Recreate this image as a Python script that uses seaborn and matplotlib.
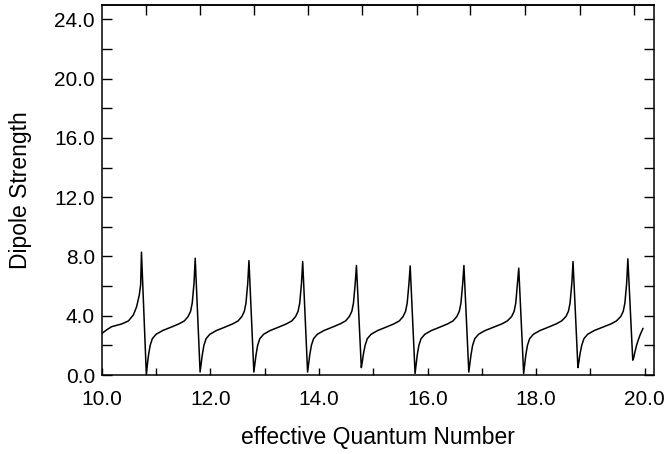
import matplotlib
matplotlib.use("Agg")
import matplotlib.pyplot as plt
from matplotlib.ticker import MultipleLocator, FixedLocator, NullFormatter
import seaborn as sns

# values, one row per resonance cycle
quantum_number = [
    10.00, 10.09, 10.18, 10.28, 10.37, 10.49, 10.58, 10.64, 10.69, 10.715, 10.73,
    10.82, 10.84, 10.86, 10.89, 10.93, 11.00, 11.12, 11.27, 11.42, 11.52, 11.59, 11.635, 11.665, 11.685, 11.698, 11.72,
    11.81, 11.83, 11.85, 11.88, 11.92, 11.99, 12.11, 12.26, 12.41, 12.51, 12.58, 12.625, 12.655, 12.675, 12.688, 12.71,
    12.80, 12.82, 12.84, 12.87, 12.91, 12.98, 13.10, 13.25, 13.40, 13.50, 13.57, 13.615, 13.645, 13.665, 13.678, 13.70,
    13.79, 13.81, 13.83, 13.86, 13.90, 13.97, 14.09, 14.24, 14.39, 14.49, 14.56, 14.605, 14.635, 14.655, 14.668, 14.69,
    14.78, 14.80, 14.82, 14.85, 14.89, 14.96, 15.08, 15.23, 15.38, 15.48, 15.55, 15.595, 15.625, 15.645, 15.658, 15.68,
    15.77, 15.79, 15.81, 15.84, 15.88, 15.95, 16.07, 16.22, 16.37, 16.47, 16.54, 16.585, 16.615, 16.635, 16.648, 16.67,
    16.76, 16.78, 16.80, 16.83, 16.87, 16.94, 17.06, 17.21, 17.37, 17.47, 17.55, 17.595, 17.625, 17.645, 17.658, 17.68,
    17.77, 17.79, 17.81, 17.84, 17.88, 17.95, 18.07, 18.22, 18.37, 18.47, 18.55, 18.595, 18.625, 18.645, 18.658, 18.68,
    18.77, 18.79, 18.81, 18.84, 18.88, 18.95, 19.07, 19.22, 19.38, 19.48, 19.56, 19.605, 19.635, 19.655, 19.668, 19.69,
    19.78, 19.80, 19.82, 19.85, 19.88, 19.92, 19.97,
]
dipole_strength = [
    2.80, 3.05, 3.26, 3.36, 3.45, 3.65, 4.05, 4.60, 5.40, 6.10, 8.29,
    0.00, 0.75, 1.35, 2.00, 2.45, 2.75, 3.00, 3.22, 3.45, 3.65, 3.95, 4.30, 4.85, 5.70, 6.20, 7.88,
    0.20, 0.80, 1.35, 2.00, 2.45, 2.75, 3.00, 3.22, 3.45, 3.65, 3.95, 4.30, 4.85, 5.70, 6.20, 7.72,
    0.20, 0.80, 1.35, 2.00, 2.45, 2.75, 3.00, 3.22, 3.45, 3.65, 3.95, 4.30, 4.85, 5.70, 6.20, 7.66,
    0.20, 0.80, 1.35, 2.00, 2.45, 2.75, 3.00, 3.22, 3.45, 3.65, 3.95, 4.30, 4.85, 5.70, 6.20, 7.39,
    0.50, 0.95, 1.45, 2.00, 2.45, 2.75, 3.00, 3.22, 3.45, 3.65, 3.95, 4.30, 4.85, 5.70, 6.20, 7.36,
    0.10, 0.75, 1.35, 2.00, 2.45, 2.75, 3.00, 3.22, 3.45, 3.65, 3.95, 4.30, 4.85, 5.70, 6.20, 7.39,
    0.20, 0.80, 1.35, 2.00, 2.45, 2.75, 3.00, 3.22, 3.45, 3.65, 3.95, 4.30, 4.85, 5.70, 6.20, 7.21,
    0.10, 0.75, 1.35, 2.00, 2.45, 2.75, 3.00, 3.22, 3.45, 3.65, 3.95, 4.30, 4.85, 5.70, 6.20, 7.66,
    0.50, 0.95, 1.45, 2.00, 2.45, 2.75, 3.00, 3.22, 3.45, 3.65, 3.95, 4.30, 4.85, 5.70, 6.20, 7.84,
    1.00, 1.20, 1.55, 2.00, 2.35, 2.75, 3.15,
]
# marks on the top axis (resonance positions)
top_ticks = [10.82, 11.80, 12.80, 13.80, 14.80, 15.80, 16.79, 17.80, 18.81, 19.80]

x_label = "effective Quantum Number"
y_label = "Dipole Strength"

sns.set_style("ticks", {"axes.edgecolor": "black", "text.color": "black",
                        "axes.labelcolor": "black", "xtick.color": "black",
                        "ytick.color": "black"})
plt.rcParams['font.family'] = ['Liberation Sans', 'DejaVu Sans']

fig = plt.figure(figsize=(6.7, 4.54), dpi=100)
ax = fig.add_axes([0.152, 0.174, 0.824, 0.816])

sns.lineplot(x=quantum_number, y=dipole_strength, sort=False, estimator=None,
             color='black', linewidth=1.1, ax=ax)

ax.set_xlim(10, 20.17)
ax.set_ylim(0, 25)

ax.xaxis.set_major_locator(MultipleLocator(2))
ax.xaxis.set_minor_locator(MultipleLocator(1))
ax.yaxis.set_major_locator(MultipleLocator(4))
ax.yaxis.set_minor_locator(MultipleLocator(2))
ax.xaxis.set_major_formatter(lambda v, p: f"{v:.1f}")
ax.yaxis.set_major_formatter(lambda v, p: f"{v:.1f}")

ax.tick_params(axis='x', which='both', direction='in', length=5, width=1.0,
               top=False, bottom=True, labelsize=15, pad=11)
ax.tick_params(axis='y', which='both', direction='in', length=7, width=1.0,
               left=True, right=True, labelsize=15, pad=5)

top = ax.secondary_xaxis('top')
top.xaxis.set_major_locator(FixedLocator(top_ticks))
top.xaxis.set_major_formatter(NullFormatter())
top.tick_params(direction='in', length=7, width=1.0, color='black')

for s in ax.spines.values():
    s.set_linewidth(1.1)
top.spines['top'].set_linewidth(1.1)

ax.set_xlabel(x_label, fontsize=16.5, labelpad=12)
ax.set_ylabel(y_label, fontsize=16.5, labelpad=16)

fig.savefig("out.png", dpi=100)
plt.close(fig)
